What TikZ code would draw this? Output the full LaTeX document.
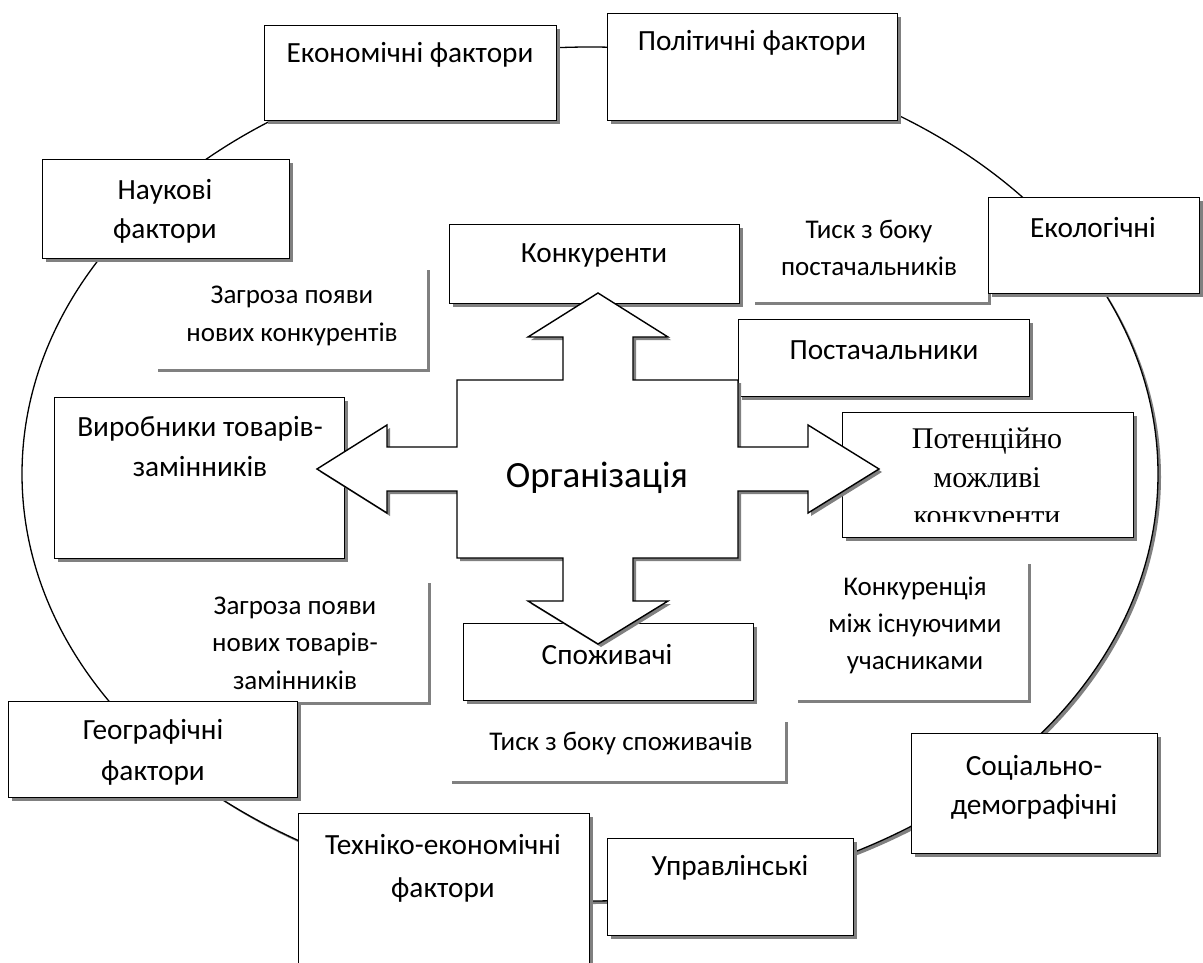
\documentclass[tikz,border=0pt]{standalone}
\usepackage{fontspec}
\setmainfont{Carlito}
\newfontfamily\serifface{Liberation Serif}
\usetikzlibrary{shadows}
\definecolor{shadowgray}{RGB}{128,128,128}
\tikzset{hardshadow/.style={general shadow={fill=shadowgray, shadow xshift=3pt, shadow yshift=-3pt}},
  factorbox/.style={draw=black, fill=white, line width=1.4pt, anchor=north west, inner sep=0pt, hardshadow},
  notebox/.style={fill=white, anchor=north west, inner sep=0pt, hardshadow},
  boxtext/.style={align=center, inner sep=0pt, font=\fontsize{29.3}{39}\selectfont},
  notetext/.style={align=center, inner sep=0pt, font=\fontsize{27}{37.5}\selectfont},
  crossarrow/.style={draw=black, fill=white, line width=1.4pt, hardshadow},
  ring/.style={draw=black, fill=white, line width=1.3pt, hardshadow}}

\begin{document}
\begin{tikzpicture}[x=1pt,y=-1pt]
   \useasboundingbox (0,0) rectangle (1203,963);
   \fill[white] (0,0) rectangle (1203,963);
   \coordinate (ringc) at (590,474);
   \draw[ring] (ringc) ellipse [x radius=568pt, y radius=427pt];
   \node[notebox, minimum width=272pt, minimum height=102pt] (threatnew) at (155,267) {};
   \node[notebox, minimum width=236pt, minimum height=102pt] (presssup) at (752,200) {};
   \node[notebox, minimum width=273pt, minimum height=122pt] (threatsub) at (155,580) {};
   \node[notebox, minimum width=233pt, minimum height=139pt] (rivalry) at (795,561) {};
   \node[notebox, minimum width=336pt, minimum height=62pt] (presscons) at (449,719) {};
   \node[factorbox, minimum width=292pt, minimum height=95pt] (econ) at (264,25) {};
   \node[factorbox, minimum width=290pt, minimum height=107pt] (polit) at (607,13) {};
   \node[factorbox, minimum width=247pt, minimum height=99pt] (sci) at (42,159) {};
   \node[factorbox, minimum width=211pt, minimum height=96pt] (ecol) at (988,197) {};
   \node[factorbox, minimum width=289pt, minimum height=96pt] (geo) at (8,701) {};
   \node[factorbox, minimum width=291pt, minimum height=160pt] (tech) at (298,813) {};
   \node[factorbox, minimum width=246pt, minimum height=97pt] (manag) at (607,838) {};
   \node[factorbox, minimum width=246pt, minimum height=120pt] (social) at (911,733) {};
   \node[factorbox, minimum width=290pt, minimum height=79pt] (rivals) at (449,224) {};
   \node[factorbox, minimum width=291pt, minimum height=77pt] (suppl) at (738,319) {};
   \node[factorbox, minimum width=290pt, minimum height=161pt] (subst) at (54,397) {};
   \node[factorbox, minimum width=291pt, minimum height=125pt] (potent) at (842,412) {};
   \node[factorbox, minimum width=290pt, minimum height=77pt] (cons) at (463,623) {};
   \draw[crossarrow] (598,293) -- (668,337) -- (633,337) -- (633,380) -- (738,380) -- (738,447) -- (808,447) -- (808,425) -- (879,469) -- (808,513) -- (808,491) -- (738,491) -- (738,558) -- (633,558) -- (633,601) -- (668,601) -- (598,644) -- (528,601) -- (563,601) -- (563,558) -- (457,558) -- (457,491) -- (387,491) -- (387,513) -- (317,469) -- (387,425) -- (387,447) -- (457,447) -- (457,380) -- (563,380) -- (563,337) -- (528,337) -- cycle;
   \node[boxtext] (econtext) at (410,55) {Економічні фактори};
   \node[boxtext] (polittext) at (752,43) {Політичні фактори};
   \node[boxtext] (scitext) at (165,211) {Наукові\\фактори};
   \node[boxtext] (ecoltext) at (1093,228) {Екологічні};
   \node[boxtext, font=\fontsize{29.3}{41}\selectfont] (geotext) at (153,752) {Географічні\\фактори};
   \node[boxtext, font=\fontsize{29.3}{43}\selectfont] (techtext) at (443,868) {Техніко-економічні\\фактори};
   \node[boxtext] (managtext) at (730,868) {Управлінські};
   \node[boxtext] (socialtext) at (1034,787) {Соціально-\\демографічні};
   \node[boxtext] (rivalstext) at (594,255) {Конкуренти};
   \node[boxtext] (suppltext) at (884,350) {Постачальники};
   \node[boxtext, font=\fontsize{29.3}{40}\selectfont] (substtext) at (200,447) {Виробники товарів-\\замінників};
   \node[boxtext] (constext) at (607,655) {Споживачі};
   \node[notetext, font=\fontsize{27}{38}\selectfont] (threatnewtext) at (292,316) {Загроза появи\\нових конкурентів};
   \node[notetext, font=\fontsize{27}{37}\selectfont] (presssuptext) at (869,248) {Тиск з боку\\постачальників};
   \node[notetext] (threatsubtext) at (295,643) {Загроза появи\\нових товарів-\\замінників};
   \node[notetext, font=\fontsize{27}{37}\selectfont] (rivalrytext) at (915,625) {Конкуренція\\між існуючими\\учасниками};
   \node[notetext] (presscontext) at (621,743) {Тиск з боку споживачів};
   \node[boxtext, font=\fontsize{37}{40}\selectfont] (org) at (597,478) {Організація};
   \begin{scope}
     \clip (843,413) rectangle (1132,521);
     \node[boxtext, font=\serifface\fontsize{30}{38.5}\selectfont] (potenttext) at (987,480) {Потенційно\\можливі\\конкуренти};
   \end{scope}
\end{tikzpicture}
\end{document}
